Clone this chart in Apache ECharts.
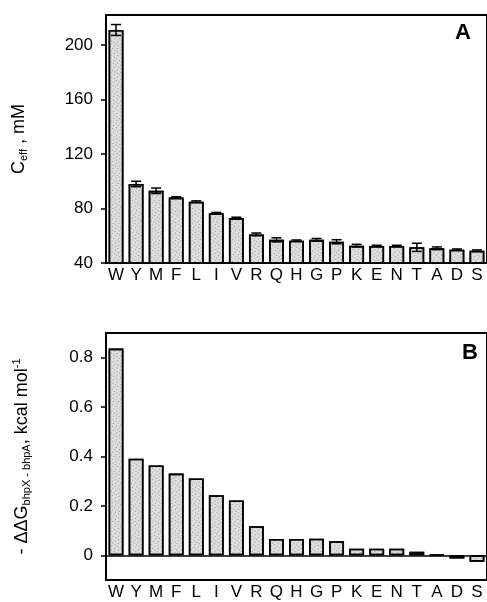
<!DOCTYPE html>
<html>
<head>
<meta charset="utf-8">
<script src="https://cdn.jsdelivr.net/npm/echarts@6/dist/echarts.min.js"></script>
<style>
  html, body { margin: 0; padding: 0; background: #fff; overflow: hidden; }
  #chart { width: 487px; height: 602px; }
</style>
</head>
<body>
<div id="chart"></div>
<script>
// residues, sorted by effect
var residues = ['W', 'Y', 'M', 'F', 'L', 'I', 'V', 'R', 'Q', 'H', 'G', 'P', 'K', 'E', 'N', 'T', 'A', 'D', 'S']
// panel A: effective concentration, mM
var ceff = [211, 98, 93, 88, 85, 76.5, 73, 61, 57, 56.4, 57, 55.6, 52.7, 52.5, 52.5, 51.5, 50.8, 49.8, 49]
var ceffErr = [4, 2, 2, 0.6, 0.6, 0.6, 0.6, 1, 1.5, 0.5, 1, 1.5, 1, 0.5, 0.5, 3, 1, 0.5, 0.6]
var ceffTicks = [40, 80, 120, 160, 200]
// panel B: -ddG, kcal/mol
var ddg = [0.837, 0.391, 0.364, 0.331, 0.311, 0.243, 0.222, 0.118, 0.066, 0.066, 0.067, 0.057, 0.027, 0.027, 0.027, 0.014, 0.002, -0.013, -0.026]
var ddgTicks = [0, 0.2, 0.4, 0.6, 0.8]

var ink = '#000'
var font = 'Liberation Sans'
var barFill = '#dcdcdc'

var stipple = {
  symbol: 'rect',
  symbolSize: 1,
  color: 'rgba(90,90,90,0.45)',
  dashArrayX: [[1, 3], [1, 2]],
  dashArrayY: [1, 2],
  rotation: 0.6
}

function catAxis (gridIndex) {
  return {
    type: 'category',
    gridIndex: gridIndex,
    data: residues,
    boundaryGap: true,
    axisLine: { onZero: false, lineStyle: { color: ink, width: 2 } },
    axisTick: { show: false },
    axisLabel: { interval: 0, margin: 4, color: ink, fontSize: 17, fontFamily: font }
  }
}

function valAxis (gridIndex, min, max, ticks, name, rich, gap) {
  return {
    type: 'value',
    gridIndex: gridIndex,
    min: min,
    max: max,
    splitLine: { show: false },
    axisLine: { show: true, lineStyle: { color: ink, width: 2 } },
    axisTick: { show: true, length: 5, customValues: ticks, lineStyle: { color: ink, width: 1.5 } },
    axisLabel: { customValues: ticks, margin: 13, color: ink, fontSize: 17, fontFamily: font },
    name: name,
    nameLocation: 'middle',
    nameRotate: 90,
    nameGap: gap,
    nameTextStyle: { rich: rich }
  }
}

var richA = {
  c: { fontSize: 18, fontFamily: font, color: ink, lineHeight: 22 },
  s: { fontSize: 11, fontFamily: font, color: ink, lineHeight: 22, padding: [9, 0, 0, 0] }
}
var richB = {
  c: { fontSize: 18, fontFamily: font, color: ink, lineHeight: 24 },
  s: { fontSize: 11, fontFamily: font, color: ink, lineHeight: 24, padding: [10, 0, 0, 0] },
  p: { fontSize: 11, fontFamily: font, color: ink, lineHeight: 24, padding: [0, 0, 10, 0] }
}

var chart = echarts.init(document.getElementById('chart'))

var option = {
  backgroundColor: '#fff',
  animation: false,
  grid: [
    { left: 106, top: 15, width: 386, height: 248, show: true, borderColor: ink, borderWidth: 2, backgroundColor: 'transparent' },
    { left: 106, top: 333, width: 386, height: 247, show: true, borderColor: ink, borderWidth: 2, backgroundColor: 'transparent' }
  ],
  xAxis: [catAxis(0), catAxis(1)],
  yAxis: [
    valAxis(0, 40, 222, ceffTicks, '{c|C}{s|eff}{c| , mM}', richA, 76),
    valAxis(1, -0.1, 0.9, ddgTicks, '{c|- \u0394\u0394G}{s|bhpX - bhpA}{c|, kcal mol}{p|-1}', richB, 72)
  ],
  graphic: [
    { type: 'text', left: 455, top: 22, style: { text: 'A', fontSize: 22, fontWeight: 'bold', fontFamily: font, fill: ink } },
    { type: 'text', left: 462, top: 342, style: { text: 'B', fontSize: 22, fontWeight: 'bold', fontFamily: font, fill: ink } }
  ],
  series: [
    {
      name: 'Ceff',
      type: 'bar',
      xAxisIndex: 0,
      yAxisIndex: 0,
      data: ceff,
      barCategoryGap: '26%',
      itemStyle: { color: barFill, borderColor: ink, borderWidth: 1.6, decal: stipple }
    },
    {
      name: 'Ceff err',
      type: 'custom',
      xAxisIndex: 0,
      yAxisIndex: 0,
      z: 5,
      data: residues.map(function (r, i) { return [i, ceff[i], ceffErr[i]] }),
      renderItem: function (params, api) {
        var x = api.value(0)
        var v = api.value(1)
        var e = api.value(2)
        var hi = api.coord([x, v + e])
        var lo = api.coord([x, v - e])
        var hw = 5
        var st = { stroke: ink, lineWidth: 1.5 }
        return {
          type: 'group',
          children: [
            { type: 'line', shape: { x1: hi[0], y1: hi[1], x2: lo[0], y2: lo[1] }, style: st },
            { type: 'line', shape: { x1: hi[0] - hw, y1: hi[1], x2: hi[0] + hw, y2: hi[1] }, style: st },
            { type: 'line', shape: { x1: lo[0] - hw, y1: lo[1], x2: lo[0] + hw, y2: lo[1] }, style: st }
          ]
        }
      }
    },
    {
      name: 'ddG',
      type: 'bar',
      xAxisIndex: 1,
      yAxisIndex: 1,
      data: ddg,
      barCategoryGap: '26%',
      itemStyle: { color: barFill, borderColor: ink, borderWidth: 1.6, decal: stipple },
      markLine: {
        silent: true,
        symbol: 'none',
        label: { show: false },
        lineStyle: { color: ink, width: 1.5, type: 'solid' },
        data: [{ yAxis: 0 }]
      }
    }
  ]
}

chart.setOption(option)
</script>
</body>
</html>
